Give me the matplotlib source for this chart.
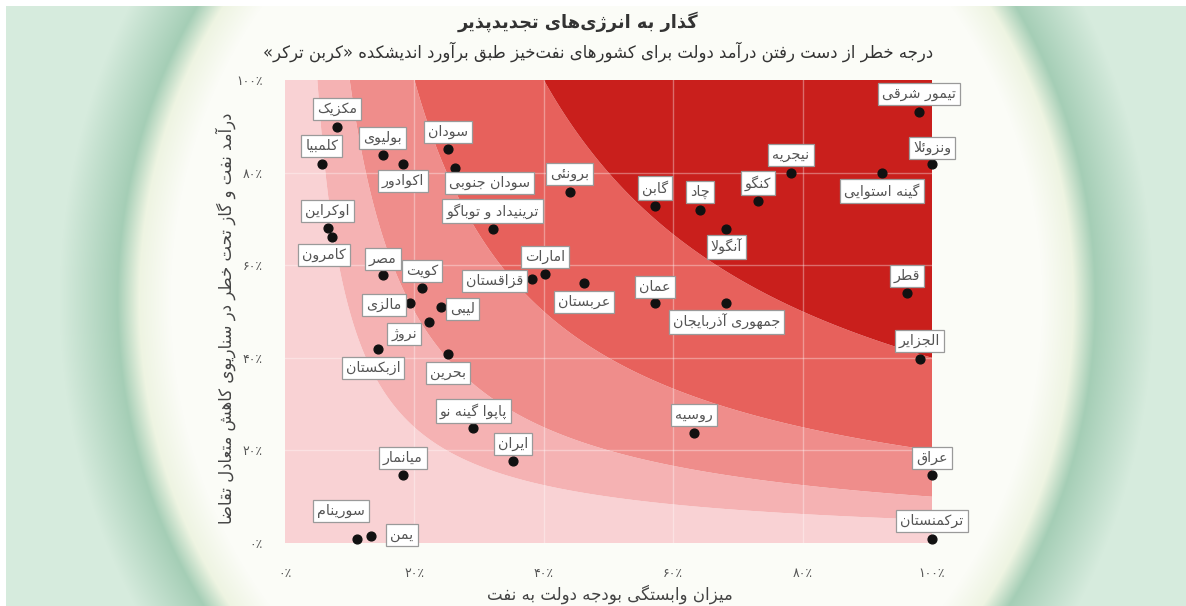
import numpy as np
import matplotlib.pyplot as plt

plt.rcParams['font.family'] = ['DejaVu Sans']

# داده‌ها (درصد)
countries = ['مکزیک', 'کلمبیا', 'بولیوی', 'اکوادور', 'سودان', 'سودان جنوبی', 'برونئی',
             'ترینیداد و توباگو', 'اوکراین', 'کامرون', 'مصر', 'کویت', 'امارات', 'قزاقستان',
             'عربستان', 'مالزی', 'لیبی', 'نروژ', 'ازبکستان', 'بحرین', 'پاپوا گینه نو', 'ایران',
             'میانمار', 'سورینام', 'یمن', 'گابن', 'چاد', 'آنگولا', 'کنگو', 'نیجریه',
             'گینه استوایی', 'تیمور شرقی', 'ونزوئلا', 'قطر', 'عمان', 'جمهوری آذربایجان',
             'الجزایر', 'روسیه', 'عراق', 'ترکمنستان']
budget_dep = [8.0, 5.7, 15.1, 18.2, 25.2, 26.3, 44.0, 32.1, 6.6, 7.3, 15.1, 21.2, 40.2, 38.2,
              46.2, 19.3, 24.1, 22.3, 14.4, 25.2, 29.1, 35.2, 18.2, 11.1, 13.3, 57.2, 64.1, 68.2,
              73.1, 78.2, 92.3, 98.0, 100.0, 96.1, 57.2, 68.2, 98.1, 63.2, 100.0, 100.0]
revenue_risk = [89.8, 81.9, 83.8, 81.9, 85.1, 81.0, 75.8, 67.8, 68.0, 66.1, 57.9, 55.1, 58.1, 57.0,
                56.2, 51.8, 51.0, 47.7, 41.9, 40.8, 24.8, 17.7, 14.7, 0.9, 1.5, 72.8, 71.9, 67.8,
                73.9, 79.9, 79.9, 93.1, 81.9, 54.0, 51.8, 51.8, 39.7, 23.8, 14.7, 0.9]

# جای برچسب‌ها نسبت به نقطه (پیکسل)
label_dx = [0, 0, 0, 0, 0, 34, 0, 0, 0, -8, 0, 0, 0, -38, 0, -26, 22, -25, -5, 0, 0, 0, 0, -16, 31,
            0, 0, 0, 0, 0, 0, 0, 0, 0, 0, 0, 0, 0, 0, 0]
label_dy = [18, 18, 17, -17, 17, -15, 18, 18, 17, -18, 16, 17, 17, -2, -19, -2, -2, -12, -19, -19, 17, 17,
            17, 28, 1, 18, 18, -18, 18, 18, -18, 18, 16, 17, 16, -19, 18, 18, 17, 18]

risk_levels = [0, 0.05, 0.1, 0.2, 0.4, 1.01]
band_colors = ['#f9d2d4', '#f5b2b3', '#ef8d8b', '#e7615c', '#c91f1c']

title = 'گذار به انرژی\u200cهای تجدیدپذیر'
subtitle = 'درجه خطر از دست رفتن درآمد دولت برای کشورهای نفت\u200cخیز طبق برآورد اندیشکده «کربن ترکر»'
ylabel = 'درآمد نفت و گاز تحت خطر در سناریوی کاهش متعادل تقاضا'
xlabel = 'میزان وابستگی بودجه دولت به نفت'

# شکل‌دهی حروف فارسی (matplotlib خودش حروف را به هم نمی‌چسباند)
FORMS = {
    'ا': (0xFE8D, 0xFE8E), 'آ': (0xFE81, 0xFE82), 'د': (0xFEA9, 0xFEAA), 'ذ': (0xFEAB, 0xFEAC),
    'ر': (0xFEAD, 0xFEAE), 'ز': (0xFEAF, 0xFEB0), 'ژ': (0xFB8A, 0xFB8B), 'و': (0xFEED, 0xFEEE),
    'ب': (0xFE8F, 0xFE90, 0xFE91, 0xFE92), 'پ': (0xFB56, 0xFB57, 0xFB58, 0xFB59),
    'ت': (0xFE95, 0xFE96, 0xFE97, 0xFE98), 'ث': (0xFE99, 0xFE9A, 0xFE9B, 0xFE9C),
    'ج': (0xFE9D, 0xFE9E, 0xFE9F, 0xFEA0), 'چ': (0xFB7A, 0xFB7B, 0xFB7C, 0xFB7D),
    'ح': (0xFEA1, 0xFEA2, 0xFEA3, 0xFEA4), 'خ': (0xFEA5, 0xFEA6, 0xFEA7, 0xFEA8),
    'س': (0xFEB1, 0xFEB2, 0xFEB3, 0xFEB4), 'ش': (0xFEB5, 0xFEB6, 0xFEB7, 0xFEB8),
    'ص': (0xFEB9, 0xFEBA, 0xFEBB, 0xFEBC), 'ض': (0xFEBD, 0xFEBE, 0xFEBF, 0xFEC0),
    'ط': (0xFEC1, 0xFEC2, 0xFEC3, 0xFEC4), 'ظ': (0xFEC5, 0xFEC6, 0xFEC7, 0xFEC8),
    'ع': (0xFEC9, 0xFECA, 0xFECB, 0xFECC), 'غ': (0xFECD, 0xFECE, 0xFECF, 0xFED0),
    'ف': (0xFED1, 0xFED2, 0xFED3, 0xFED4), 'ق': (0xFED5, 0xFED6, 0xFED7, 0xFED8),
    'ک': (0xFB8E, 0xFB8F, 0xFB90, 0xFB91), 'گ': (0xFB92, 0xFB93, 0xFB94, 0xFB95),
    'ل': (0xFEDD, 0xFEDE, 0xFEDF, 0xFEE0), 'م': (0xFEE1, 0xFEE2, 0xFEE3, 0xFEE4),
    'ن': (0xFEE5, 0xFEE6, 0xFEE7, 0xFEE8), 'ه': (0xFEE9, 0xFEEA, 0xFEEB, 0xFEEC),
    'ی': (0xFBFC, 0xFBFD, 0xFBFE, 0xFBFF), 'ئ': (0xFE89, 0xFE8A, 0xFE8B, 0xFE8C),
}
LAM_ALEF = {'ا': (0xFEFB, 0xFEFC), 'آ': (0xFEF5, 0xFEF6)}
MIRROR = {'«': '»', '»': '«', '(': ')', ')': '('}


def fa(text):
    out = []
    i = 0
    n = len(text)
    while i < n:
        c = text[i]
        prev = text[i - 1] if i > 0 else ''
        p = prev in FORMS and len(FORMS[prev]) == 4
        if c == 'ل' and i + 1 < n and text[i + 1] in LAM_ALEF:
            lig = LAM_ALEF[text[i + 1]]
            out.append(chr(lig[1] if p else lig[0]))
            i += 2
            continue
        if c in FORMS:
            f = FORMS[c]
            q = i + 1 < n and text[i + 1] in FORMS
            if len(f) == 2:
                out.append(chr(f[1] if p else f[0]))
            else:
                out.append(chr(f[3] if p and q else f[1] if p else f[2] if q else f[0]))
        elif c != '\u200c':
            out.append(MIRROR.get(c, c))
        i += 1
    return ''.join(reversed(out))


FA_DIGITS = '۰۱۲۳۴۵۶۷۸۹'


def fa_pct(v, pos=None):
    return ''.join(FA_DIGITS[int(d)] for d in str(int(round(v)))) + '٪'


W, H = 1186, 606
fig = plt.figure(figsize=(W / 100, H / 100), dpi=100)

# پس زمینه سبز دور تصویر
bg = fig.add_axes([0, 0, 1, 1], zorder=-10)
yy, xx = np.mgrid[0:H, 0:W]
r = np.sqrt(((xx - 606) / 484.0) ** 2 + ((yy - 300) / 533.0) ** 2)
inner = np.array([251, 252, 247]) / 255
cream = np.array([238, 244, 226]) / 255
ring = np.array([165, 206, 182]) / 255
outer = np.array([214, 235, 221]) / 255
stops = [0.0, 0.90, 0.965, 1.01, 1.13, 3.0]
cols = [inner, inner, cream, ring, outer, outer]
img = np.zeros((H, W, 3))
for k in range(3):
    img[..., k] = np.interp(r, stops, [c[k] for c in cols])
img[:6, :, :] = 1.0
img[:, :6, :] = 1.0
bg.imshow(img, aspect='auto', interpolation='bilinear')
bg.axis('off')

ax = fig.add_axes([285 / W, 1 - 543 / H, 647 / W, 463 / H])
gx = np.linspace(0, 100, 500)
GX, GY = np.meshgrid(gx, gx)
ax.contourf(GX, GY, GX * GY / 10000.0, levels=risk_levels, colors=band_colors, antialiased=True)
ax.set_xlim(0, 100)
ax.set_ylim(0, 100)
ax.set_xticks([0, 20, 40, 60, 80, 100])
ax.set_yticks([0, 20, 40, 60, 80, 100])
ax.xaxis.set_major_formatter(plt.FuncFormatter(fa_pct))
ax.yaxis.set_major_formatter(plt.FuncFormatter(fa_pct))
ax.tick_params(length=0, labelsize=9, labelcolor='#555555')
ax.tick_params(axis='x', pad=17)
ax.tick_params(axis='y', pad=16)
for g in [20, 40, 60, 80]:
    ax.axvline(g, color='white', lw=1, alpha=0.35, zorder=1)
    ax.axhline(g, color='white', lw=1, alpha=0.35, zorder=1)
for s in ax.spines.values():
    s.set_visible(False)

ax.scatter(budget_dep, revenue_risk, s=40, color='#111111', zorder=5, clip_on=False)
for name, x, y, dx, dy in zip(countries, budget_dep, revenue_risk, label_dx, label_dy):
    ax.annotate(fa(name), (x, y), xytext=(dx, dy), textcoords='offset pixels',
                ha='center', va='center', fontsize=10.3, color='#555555', zorder=6,
                annotation_clip=False,
                bbox=dict(boxstyle='square,pad=0.28', fc='white', ec='#9a9a9a', lw=0.9))

fig.text(578 / W, 1 - 22 / H, fa(title), ha='center', va='center', fontsize=12.8,
         color='#333333', weight='bold')
fig.text(598 / W, 1 - 52 / H, fa(subtitle), ha='center', va='center', fontsize=11.9,
         color='#333333')
fig.text(226 / W, 1 - 318 / H, fa(ylabel), ha='center', va='center', rotation=90,
         fontsize=11.9, color='#444444')
fig.text(610 / W, 1 - 594 / H, fa(xlabel), ha='center', va='center', fontsize=12,
         color='#444444')

fig.savefig('out.png', dpi=100)
